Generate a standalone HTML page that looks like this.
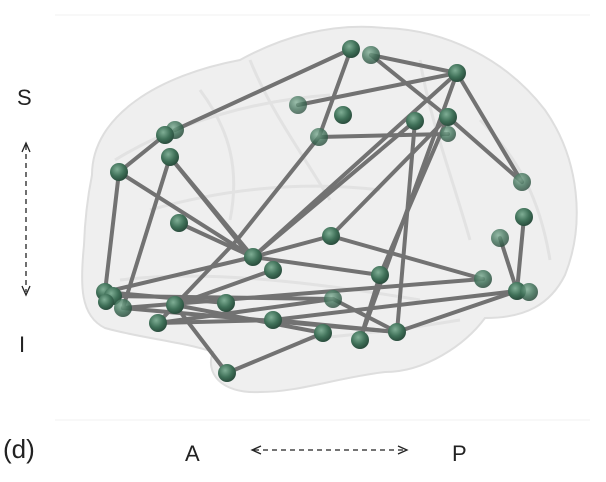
<!DOCTYPE html>
<html><head><meta charset="utf-8"><style>
html,body{margin:0;padding:0;background:#fff;width:606px;height:482px;overflow:hidden}
svg{display:block}
</style></head><body>
<svg width="606" height="482" viewBox="0 0 606 482" xmlns="http://www.w3.org/2000/svg">
<defs>
<radialGradient id="g" cx="40%" cy="35%" r="65%">
<stop offset="0" stop-color="#7fae95"/><stop offset="0.6" stop-color="#3f7058"/><stop offset="1" stop-color="#2a4d3d"/>
</radialGradient>
</defs>
<line x1="55" y1="15" x2="590" y2="15" stroke="#f2f2f2"/>
<line x1="55" y1="420" x2="590" y2="420" stroke="#f2f2f2"/>
<path d="M92,175 C92,115 160,75 240,60 C280,38 330,22 385,28 C445,30 505,58 545,110 C580,160 585,225 565,275 C550,305 525,318 485,318 C465,345 425,372 385,372 C335,378 300,392 260,392 C220,394 205,372 213,352 C185,342 140,338 105,328 C80,316 80,285 84,245 C85,215 88,195 92,175 Z" fill="#efefef" stroke="#dedede" stroke-width="2"/>
<path d="M115,160 C180,120 260,100 330,95 M150,210 C220,190 300,180 380,190 M250,60 C270,110 300,150 330,200 M420,60 C430,120 450,170 470,240 M120,280 C200,270 300,280 420,300 M300,340 C350,335 400,330 460,320 M480,120 C520,160 540,200 550,260 M200,90 C230,130 240,170 230,220" fill="none" stroke="#e2e2e2" stroke-width="3"/>
<g stroke="#727272" stroke-width="4" stroke-linecap="round">
<line x1="351" y1="49" x2="175" y2="130"/>
<line x1="351" y1="49" x2="319" y2="137"/>
<line x1="371" y1="55" x2="448" y2="117"/>
<line x1="371" y1="55" x2="457" y2="73"/>
<line x1="457" y1="73" x2="298" y2="105"/>
<line x1="457" y1="73" x2="522" y2="182"/>
<line x1="457" y1="73" x2="360" y2="340"/>
<line x1="457" y1="73" x2="253" y2="257"/>
<line x1="448" y1="117" x2="331" y2="236"/>
<line x1="448" y1="117" x2="380" y2="275"/>
<line x1="448" y1="117" x2="522" y2="182"/>
<line x1="415" y1="121" x2="397" y2="332"/>
<line x1="415" y1="121" x2="253" y2="257"/>
<line x1="319" y1="137" x2="448" y2="134"/>
<line x1="319" y1="137" x2="237" y2="240"/>
<line x1="165" y1="135" x2="119" y2="172"/>
<line x1="119" y1="172" x2="105" y2="292"/>
<line x1="119" y1="172" x2="253" y2="257"/>
<line x1="170" y1="157" x2="253" y2="257"/>
<line x1="170" y1="157" x2="245" y2="250"/>
<line x1="170" y1="157" x2="123" y2="308"/>
<line x1="179" y1="223" x2="253" y2="257"/>
<line x1="331" y1="236" x2="483" y2="279"/>
<line x1="331" y1="236" x2="253" y2="257"/>
<line x1="253" y1="257" x2="380" y2="275"/>
<line x1="253" y1="257" x2="105" y2="292"/>
<line x1="273" y1="270" x2="175" y2="305"/>
<line x1="237" y1="240" x2="158" y2="323"/>
<line x1="483" y1="279" x2="123" y2="308"/>
<line x1="105" y1="292" x2="226" y2="303"/>
<line x1="113" y1="296" x2="333" y2="299"/>
<line x1="123" y1="308" x2="397" y2="332"/>
<line x1="158" y1="323" x2="333" y2="299"/>
<line x1="158" y1="323" x2="273" y2="320"/>
<line x1="175" y1="305" x2="227" y2="373"/>
<line x1="175" y1="305" x2="323" y2="333"/>
<line x1="227" y1="373" x2="323" y2="333"/>
<line x1="273" y1="320" x2="397" y2="332"/>
<line x1="333" y1="299" x2="397" y2="332"/>
<line x1="380" y1="275" x2="360" y2="340"/>
<line x1="517" y1="291" x2="397" y2="332"/>
<line x1="517" y1="291" x2="273" y2="320"/>
<line x1="500" y1="238" x2="517" y2="291"/>
<line x1="524" y1="217" x2="517" y2="291"/>
</g>
<g fill="url(#g)">
<circle cx="351" cy="49" r="9"/><circle cx="371" cy="55" r="9" opacity="0.8"/><circle cx="457" cy="73" r="9"/>
<circle cx="298" cy="105" r="9" opacity="0.75"/><circle cx="343" cy="115" r="9"/><circle cx="415" cy="121" r="9"/>
<circle cx="448" cy="134" r="8" opacity="0.8"/><circle cx="448" cy="117" r="9"/><circle cx="319" cy="137" r="9" opacity="0.8"/>
<circle cx="175" cy="130" r="9" opacity="0.85"/><circle cx="165" cy="135" r="9"/><circle cx="170" cy="157" r="9"/>
<circle cx="119" cy="172" r="9"/><circle cx="522" cy="182" r="9" opacity="0.8"/><circle cx="524" cy="217" r="9"/>
<circle cx="179" cy="223" r="9"/><circle cx="500" cy="238" r="9" opacity="0.8"/><circle cx="331" cy="236" r="9"/>
<circle cx="253" cy="257" r="9"/><circle cx="273" cy="270" r="9"/>
<circle cx="380" cy="275" r="9"/><circle cx="483" cy="279" r="9" opacity="0.85"/><circle cx="105" cy="292" r="9"/>
<circle cx="113" cy="296" r="9"/><circle cx="106" cy="302" r="8"/><circle cx="123" cy="308" r="9" opacity="0.85"/>
<circle cx="175" cy="305" r="9"/><circle cx="226" cy="303" r="9"/><circle cx="333" cy="299" r="9" opacity="0.8"/>
<circle cx="517" cy="291" r="9"/><circle cx="529" cy="292" r="9" opacity="0.85"/><circle cx="158" cy="323" r="9"/>
<circle cx="273" cy="320" r="9"/><circle cx="323" cy="333" r="9"/><circle cx="360" cy="340" r="9"/>
<circle cx="397" cy="332" r="9"/><circle cx="227" cy="373" r="9"/>
</g>
<g font-family="Liberation Sans, sans-serif" fill="#222">
<text x="17" y="105" font-size="22">S</text>
<text x="19" y="352" font-size="22">I</text>
<text x="3" y="458" font-size="26">(d)</text>
<text x="185" y="461" font-size="22">A</text>
<text x="452" y="461" font-size="22">P</text>
</g>
<g stroke="#222" stroke-width="1.3" fill="none">
<line x1="26" y1="145" x2="26" y2="292" stroke-dasharray="5,4"/>
<path d="M22,152 L26,143 L30,152"/><path d="M22,286 L26,295 L30,286"/>
<line x1="254" y1="450" x2="404" y2="450" stroke-dasharray="5,4"/>
<path d="M261,446 L252,450 L261,454"/><path d="M398,446 L407,450 L398,454"/>
</g>
</svg>
</body></html>
